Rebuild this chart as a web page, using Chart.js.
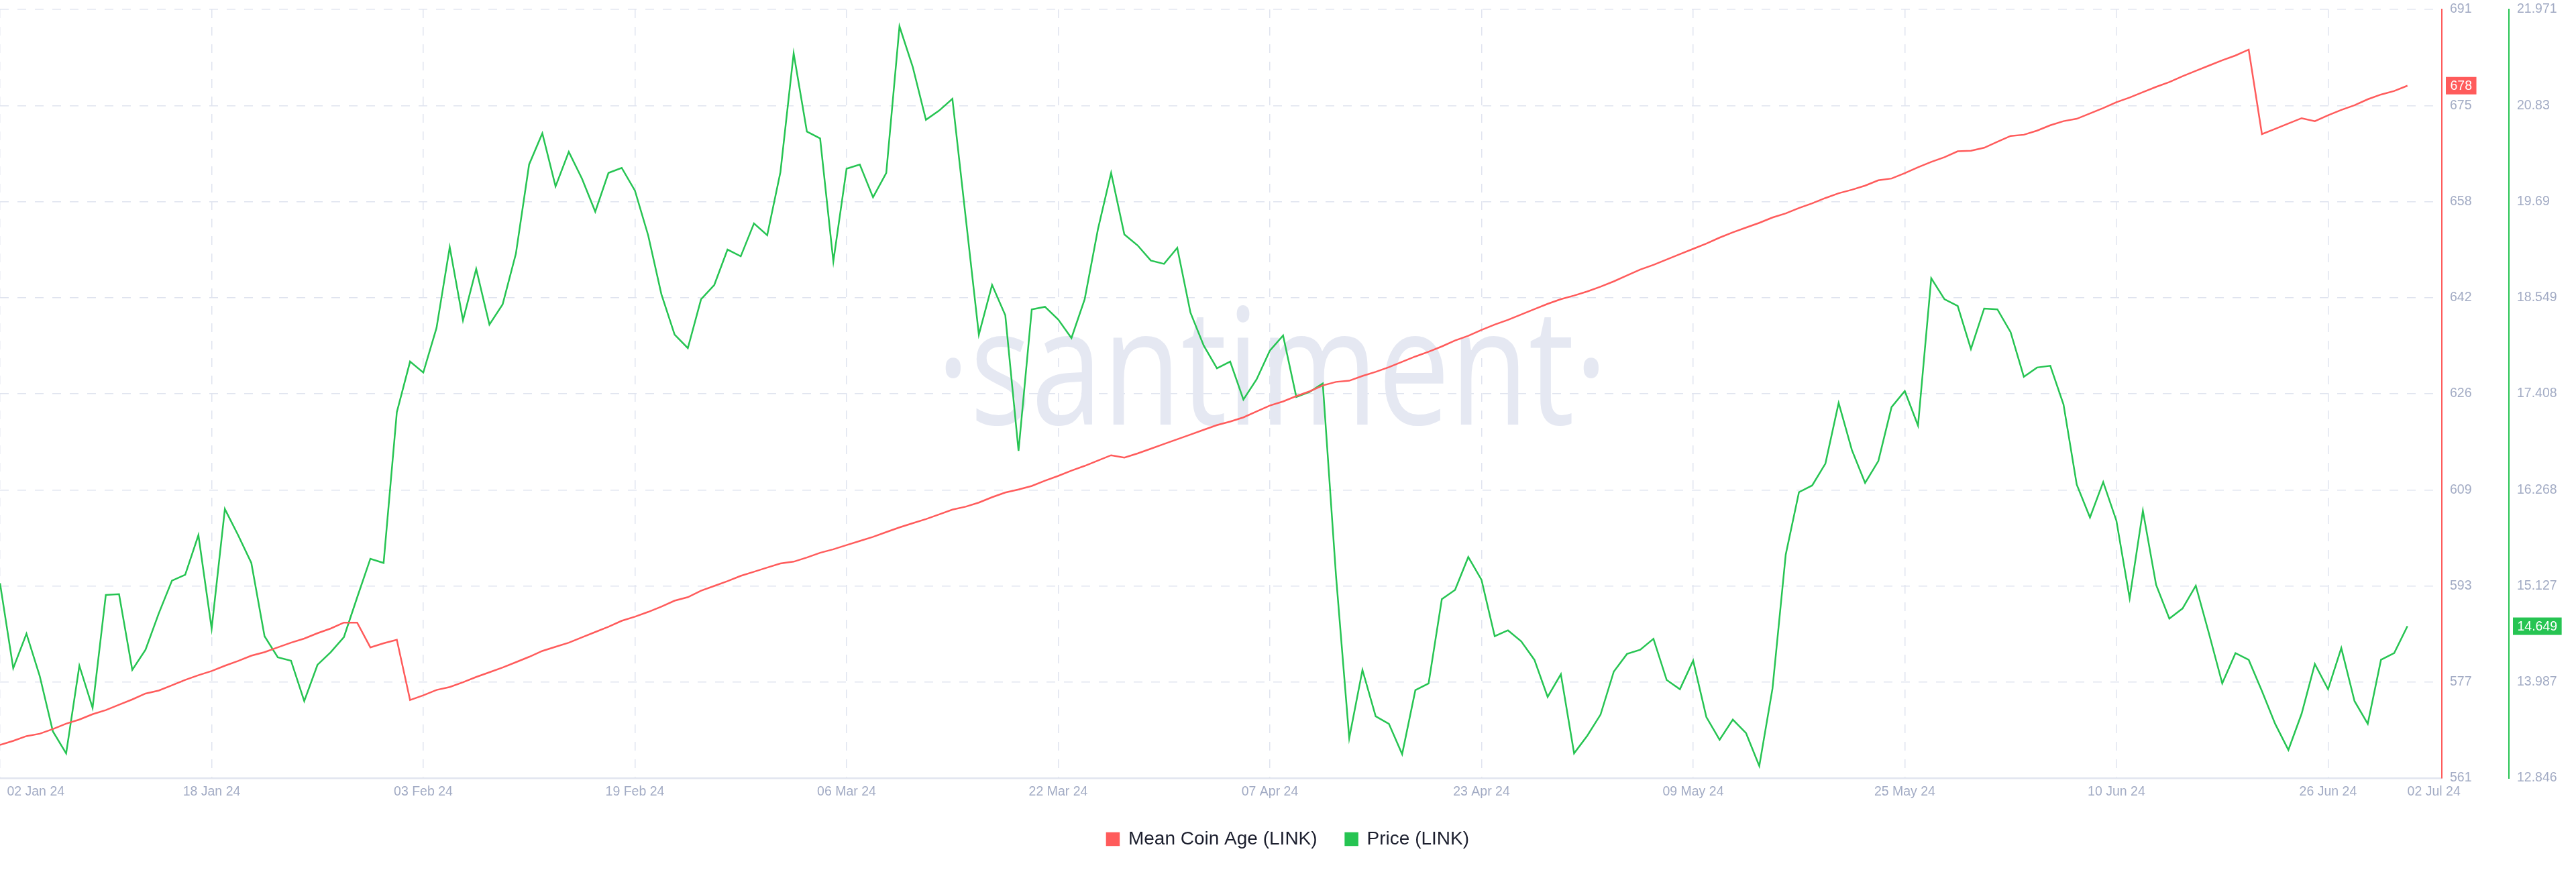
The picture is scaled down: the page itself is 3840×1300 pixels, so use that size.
<!DOCTYPE html>
<html>
<head>
<meta charset="utf-8">
<title>Mean Coin Age / Price (LINK)</title>
<script src="https://cdn.jsdelivr.net/npm/chart.js@4.4.1/dist/chart.umd.min.js"></script>
<style>
  html, body { margin: 0; padding: 0; background: #fff; }
  #wrap { width: 3840px; height: 1300px; position: relative; }
</style>
</head>
<body>
<div id="wrap"><canvas id="chart"></canvas></div>
<script>
'use strict'

// daily values, first one is 02 Jan 24
const startDate = '2024-01-02'

const meanCoinAge = [
    566.6, 567.3, 568.1, 568.5, 569.3, 570.2, 570.9, 571.8, 572.5, 573.4,
    574.3, 575.3, 575.8, 576.7, 577.6, 578.4, 579.1, 580.0, 580.8, 581.7,
    582.3, 583.1, 583.9, 584.6, 585.5, 586.3, 587.3, 587.3, 583.1, 583.8,
    584.4, 574.2, 575.0, 575.9, 576.4, 577.2, 578.1, 578.9, 579.7, 580.6,
    581.5, 582.5, 583.2, 583.9, 584.8, 585.7, 586.6, 587.6, 588.3, 589.1,
    590.0, 591.0, 591.6, 592.7, 593.5, 594.3, 595.2, 595.9, 596.6, 597.3,
    597.6, 598.3, 599.1, 599.7, 600.4, 601.1, 601.8, 602.6, 603.4, 604.1,
    604.8, 605.6, 606.4, 606.9, 607.6, 608.5, 609.3, 609.8, 610.4, 611.3,
    612.1, 613.0, 613.8, 614.7, 615.6, 615.2, 615.9, 616.7, 617.5, 618.3,
    619.1, 619.9, 620.7, 621.3, 622.0, 623.0, 624.0, 624.7, 625.6, 626.4,
    627.4, 628.0, 628.2, 629.0, 629.7, 630.5, 631.4, 632.3, 633.1, 634.0,
    635.0, 635.8, 636.8, 637.7, 638.5, 639.4, 640.3, 641.2, 642.0, 642.6,
    643.3, 644.1, 645.0, 646.0, 647.0, 647.8, 648.7, 649.6, 650.5, 651.4,
    652.4, 653.3, 654.1, 654.9, 655.8, 656.5, 657.4, 658.2, 659.1, 659.9,
    660.5, 661.2, 662.1, 662.4, 663.3, 664.3, 665.2, 666.0, 667.0, 667.1,
    667.6, 668.6, 669.6, 669.8, 670.5, 671.4, 672.1, 672.5, 673.4, 674.3,
    675.3, 676.1, 677.0, 677.9, 678.7, 679.7, 680.6, 681.5, 682.4, 683.2,
    684.2, 669.9, 670.8, 671.7, 672.6, 672.1, 673.1, 674.0, 674.8, 675.8,
    676.6, 677.2, 678.1
]

const price = [
    15.16, 14.15, 14.56, 14.06, 13.40, 13.14, 14.18, 13.68, 15.02, 15.03,
    14.13, 14.37, 14.80, 15.19, 15.26, 15.73, 14.62, 16.04, 15.73, 15.40,
    14.53, 14.28, 14.24, 13.76, 14.19, 14.34, 14.52, 14.99, 15.45, 15.40,
    17.19, 17.79, 17.66, 18.19, 19.15, 18.28, 18.89, 18.23, 18.47, 19.07,
    20.13, 20.50, 19.87, 20.28, 19.96, 19.57, 20.03, 20.09, 19.82, 19.29,
    18.59, 18.11, 17.95, 18.53, 18.70, 19.12, 19.04, 19.43, 19.29, 20.04,
    21.45, 20.52, 20.44, 18.98, 20.08, 20.13, 19.74, 20.03, 21.77, 21.29,
    20.66, 20.77, 20.91, 19.51, 18.11, 18.70, 18.34, 16.73, 18.41, 18.44,
    18.29, 18.07, 18.53, 19.36, 20.03, 19.30, 19.17, 18.99, 18.95, 19.14,
    18.37, 17.98, 17.71, 17.79, 17.34, 17.58, 17.92, 18.10, 17.37, 17.43,
    17.53, 15.25, 13.32, 14.13, 13.58, 13.49, 13.13, 13.89, 13.97, 14.97,
    15.08, 15.47, 15.20, 14.53, 14.60, 14.47, 14.25, 13.81, 14.08, 13.14,
    13.35, 13.60, 14.11, 14.32, 14.37, 14.50, 14.01, 13.90, 14.24, 13.57,
    13.30, 13.54, 13.38, 12.99, 13.91, 15.50, 16.24, 16.32, 16.58, 17.30,
    16.74, 16.35, 16.61, 17.25, 17.44, 17.03, 18.78, 18.53, 18.45, 17.94,
    18.42, 18.41, 18.14, 17.61, 17.72, 17.74, 17.28, 16.33, 15.94, 16.36,
    15.90, 14.98, 16.02, 15.14, 14.74, 14.86, 15.13, 14.56, 13.97, 14.33,
    14.25, 13.88, 13.49, 13.18, 13.61, 14.20, 13.90, 14.39, 13.76, 13.49,
    14.25, 14.33, 14.649
]

// axis tick labels as printed on the chart
const ageTicks = [561, 577, 593, 609, 626, 642, 658, 675, 691]
const priceTicks = [12.846, 13.987, 15.127, 16.268, 17.408, 18.549, 19.69, 20.83, 21.971]
const xTickDates = [
    '2024-01-02', '2024-01-18', '2024-02-03', '2024-02-19', '2024-03-06', '2024-03-22', '2024-04-07',
    '2024-04-23', '2024-05-09', '2024-05-25', '2024-06-10', '2024-06-26', '2024-07-02'
]
const xTickLabels = [
    '02 Jan 24', '18 Jan 24', '03 Feb 24', '19 Feb 24', '06 Mar 24', '22 Mar 24', '07 Apr 24',
    '23 Apr 24', '09 May 24', '25 May 24', '10 Jun 24', '26 Jun 24', '02 Jul 24'
]

const RED = '#ff5b5b'
const GREEN = '#26c452'
const GRID = '#e0e4ef'
const TICK = '#a2abc4'
const FONT = '"Liberation Sans", Arial, Helvetica, sans-serif'

const DAY = 86400000
function dayOf(iso) {
    return (Date.parse(iso) - Date.parse(startDate)) / DAY
}

// the x axis runs a bit past the last day
const xMax = 184.6

// edge labels sit inward and have no grid line of their own
const xTicks = []
xTickDates.forEach((iso, i) => {
    const d = dayOf(iso)
    if (i === 0) {
        xTicks.push({ value: d, label: '', grid: true })
        xTicks.push({ value: d + 2.7, label: xTickLabels[i], grid: false })
    } else if (i === xTickDates.length - 1) {
        xTicks.push({ value: d + 2.0, label: xTickLabels[i], grid: false })
    } else {
        xTicks.push({ value: d, label: xTickLabels[i], grid: true })
    }
})

const watermark = {
    id: 'watermark',
    beforeDatasetsDraw(chart) {
        const { ctx, chartArea: a } = chart
        ctx.save()
        ctx.fillStyle = '#e5e8f2'
        ctx.font = '242px "Open Sans", ' + FONT
        ctx.textAlign = 'center'
        ctx.textBaseline = 'alphabetic'
        ctx.translate(a.left + a.width * 0.521, a.top + (a.bottom - a.top) * 0.54)
        ctx.scale(0.79, 1)
        ctx.fillText('\u00b7santiment\u00b7', 0, 0)
        ctx.restore()
    }
}

// boxes with the latest value on each value axis
const lastValues = {
    id: 'lastValues',
    afterDraw(chart) {
        const ctx = chart.ctx
        chart.data.datasets.forEach(ds => {
            const scale = chart.scales[ds.yAxisID]
            const last = ds.data[ds.data.length - 1].y
            const text = ds.yAxisID === 'y' ? String(Math.round(last)) : last.toFixed(3)
            const y = scale.getPixelForValue(last)
            ctx.save()
            ctx.font = '19.5px ' + FONT
            const w = ctx.measureText(text).width + 13
            ctx.fillStyle = ds.borderColor
            ctx.fillRect(scale.left + 6, y - 13, w, 26)
            ctx.fillStyle = '#ffffff'
            ctx.textBaseline = 'middle'
            ctx.textAlign = 'left'
            ctx.fillText(text, scale.left + 12.5, y + 1)
            ctx.restore()
        })
    }
}

Chart.defaults.font.family = FONT

var chart = new Chart(document.getElementById('chart'), {
    type: 'line',
    data: {
        datasets: [
            {
                label: 'Mean Coin Age (LINK)',
                data: meanCoinAge.map((v, i) => ({ x: i, y: v })),
                yAxisID: 'y',
                borderColor: RED,
                backgroundColor: RED,
                borderWidth: 2.5,
                pointRadius: 0,
                tension: 0
            },
            {
                label: 'Price (LINK)',
                data: price.map((v, i) => ({ x: i, y: v })),
                yAxisID: 'y1',
                borderColor: GREEN,
                backgroundColor: GREEN,
                borderWidth: 2.5,
                pointRadius: 0,
                tension: 0
            }
        ]
    },
    options: {
        responsive: true,
        maintainAspectRatio: false,
        animation: false,
        devicePixelRatio: 1,
        layout: {
            padding: { top: 14, bottom: 25, left: 0, right: 0 }
        },
        plugins: {
            tooltip: { enabled: false },
            legend: {
                position: 'bottom',
                maxHeight: 80,
                labels: {
                    boxWidth: 18,
                    boxHeight: 18,
                    padding: 42,
                    color: '#1c1f2e',
                    font: { size: 28 }
                }
            }
        },
        scales: {
            x: {
                type: 'linear',
                min: 0,
                max: xMax,
                afterBuildTicks(scale) {
                    scale.ticks = xTicks.map(t => ({ value: t.value }))
                },
                afterFit(scale) {
                    scale.height = 35
                    scale.paddingLeft = 0
                    scale.paddingRight = 0
                },
                ticks: {
                    autoSkip: false,
                    maxRotation: 0,
                    minRotation: 0,
                    padding: 9,
                    color: TICK,
                    font: { size: 19.5 },
                    callback: (v, i) => xTicks[i] ? xTicks[i].label : ''
                },
                grid: {
                    color: c => (xTicks[c.index] && xTicks[c.index].grid) ? GRID : 'rgba(0,0,0,0)',
                    lineWidth: 1.5,
                    drawTicks: false
                },
                border: { display: true, color: '#e1e5ef', width: 2.5, dash: [13, 13] }
            },
            y: {
                type: 'linear',
                position: 'right',
                weight: 0,
                min: ageTicks[0],
                max: ageTicks[ageTicks.length - 1],
                afterBuildTicks(scale) {
                    const n = ageTicks.length
                    scale.ticks = ageTicks.map((t, i) => ({ value: scale.min + i * (scale.max - scale.min) / (n - 1) }))
                },
                afterFit(scale) {
                    scale.width = 100
                    scale.paddingTop = 0
                    scale.paddingBottom = 0
                },
                ticks: {
                    color: TICK,
                    padding: 12,
                    font: { size: 19.5 },
                    callback: (v, i) => String(ageTicks[i])
                },
                grid: { color: GRID, lineWidth: 1.5, drawTicks: false },
                border: { display: true, color: RED, width: 2, dash: [13, 13] }
            },
            y1: {
                type: 'linear',
                position: 'right',
                weight: 1,
                min: priceTicks[0],
                max: priceTicks[priceTicks.length - 1],
                afterBuildTicks(scale) {
                    scale.ticks = priceTicks.map(t => ({ value: t }))
                },
                afterFit(scale) {
                    scale.width = 100
                    scale.paddingTop = 0
                    scale.paddingBottom = 0
                },
                ticks: {
                    color: TICK,
                    padding: 12,
                    font: { size: 19.5 },
                    callback: (v, i) => String(priceTicks[i])
                },
                grid: { drawOnChartArea: false, drawTicks: false },
                border: { display: true, color: GREEN, width: 2 }
            }
        }
    },
    plugins: [watermark, lastValues]
})
</script>
</body>
</html>
